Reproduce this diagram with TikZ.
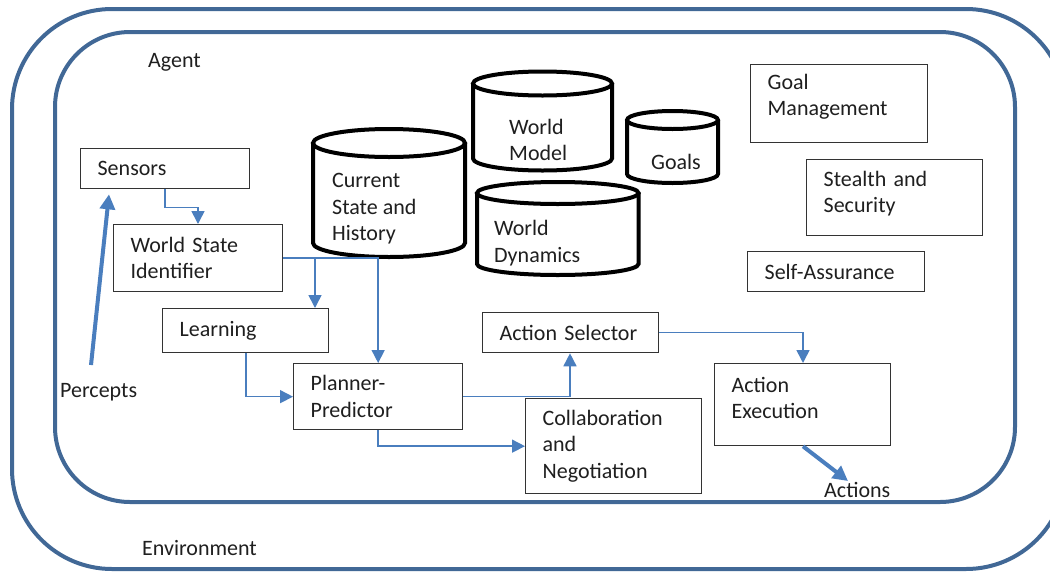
\documentclass[tikz,border=0pt]{standalone}
\usepackage{fontspec}
\setmainfont{Carlito}
\usetikzlibrary{arrows.meta,calc}
\definecolor{frameblue}{RGB}{65,104,150}
\definecolor{linkblue}{RGB}{74,126,190}
\begin{document}
\begin{tikzpicture}[x=1pt,y=1pt,
  every node/.style={font=\fontsize{22}{26.5}\selectfont, text=black!88},
  frame/.style={draw=frameblue, line width=4pt},
  box/.style={draw=black!80, line width=1.3pt, inner xsep=17pt, inner ysep=0pt, align=left, anchor=north west, fill=white},
  cyl/.style={draw=black, line width=4pt, fill=white},
  cyltext/.style={inner sep=0pt, align=left, anchor=west},
  link/.style={draw=linkblue, line width=1.6pt, -{Triangle[length=13pt,width=13pt]}},
  bigarrow/.style={draw=linkblue, line width=4pt, -{Triangle[length=15pt,width=15pt]}},
  lbl/.style={inner sep=0pt, anchor=base west}
]
\useasboundingbox (0,0) rectangle (1050,-571);

% frames
\draw[frame, rounded corners=100pt] (12,-9) rectangle (1066,-569);
\draw[frame, rounded corners=75pt] (55,-32) rectangle (1015,-502);

% cylinders
% Current State and History
\draw[cyl] (313,-143) -- (313,-243) arc[start angle=180, end angle=360, x radius=76pt, y radius=14pt] -- (465,-143);
\draw[cyl] (389,-143) ellipse[x radius=76pt, y radius=14pt];
% World Model
\draw[cyl] (473,-83.5) -- (473,-158.5) arc[start angle=180, end angle=360, x radius=69.5pt, y radius=12pt] -- (612,-83.5);
\draw[cyl] (542.5,-83.5) ellipse[x radius=69.5pt, y radius=12pt];
% Goals
\draw[cyl] (627,-120) -- (627,-174) arc[start angle=180, end angle=360, x radius=45.5pt, y radius=9pt] -- (718,-120);
\draw[cyl] (672.5,-120) ellipse[x radius=45.5pt, y radius=9pt];
% World Dynamics
\draw[cyl] (477,-193) -- (477,-264) arc[start angle=180, end angle=360, x radius=80.75pt, y radius=11pt] -- (638.5,-193);
\draw[cyl] (557.75,-193) ellipse[x radius=80.75pt, y radius=11pt];

\node[cyltext] (cur) at (332,-209) {Current\\State and\\History};
\node[cyltext] (wm) at (509,-140) {World\\Model};
\node[cyltext] (wd) at (494,-243) {World\\Dynamics};
\node[inner sep=0pt] (goals) at (676,-162) {Goals};

% boxes
\node[box, text width=135pt, minimum height=40pt] (sens) at (80,-148) {Sensors};
\node[box, text width=135pt, minimum height=67pt] (wsi) at (113,-224) {World State\\Identifier};
\node[box, text width=132pt, minimum height=44pt] (learn) at (162,-308) {Learning};
\node[box, text width=135pt, minimum height=66pt] (plan) at (293,-363) {Planner-\\Predictor};
\node[box, text width=142pt, minimum height=40pt] (asel) at (482,-312) {Action Selector};
\node[box, text width=142pt, minimum height=95pt] (collab) at (525,-398) {Collaboration\\and\\Negotiation};
\node[box, text width=142pt, minimum height=82pt, text depth=40pt] (exec) at (714,-363) {Action\\Execution};
\node[box, text width=143pt, minimum height=78pt, text depth=44pt] (goalm) at (750,-64) {Goal\\Management};
\node[box, text width=142pt, minimum height=76pt, text depth=38pt] (stealth) at (806,-159) {Stealth and\\Security};
\node[box, text width=143pt, minimum height=40pt] (selfa) at (747,-251) {Self-Assurance};

% labels
\node[lbl] (agent) at (148,-67) {Agent};
\node[lbl] (percepts) at (60,-397) {Percepts};
\node[lbl] (env) at (142,-555) {Environment};
\node[lbl] (actions) at (824,-497) {Actions};

% connectors
\draw[link] ([xshift=85pt]sens.south west) -- ++(0,-18) -| ([xshift=85pt]wsi.north west);
\draw[link] (wsi.east) -| ([xshift=153pt]learn.north west);
\draw[link] (wsi.east) -| (plan.north);
\draw[link] ([xshift=84pt]learn.south west) |- (plan.west);
\draw[link] (plan.east) -| ([xshift=88pt]asel.south west);
\draw[link] (plan.south) |- (collab.west);
\draw[link] (asel.east) -| ([xshift=89pt]exec.north west);

\coordinate (atip) at (848,-481);
\draw[bigarrow] ([xshift=89pt]exec.south west) -- (atip);
\coordinate (pstart) at (91,-365);
\draw[bigarrow] (pstart) -- ([xshift=29pt,yshift=-5pt]sens.south west);
\end{tikzpicture}
\end{document}
